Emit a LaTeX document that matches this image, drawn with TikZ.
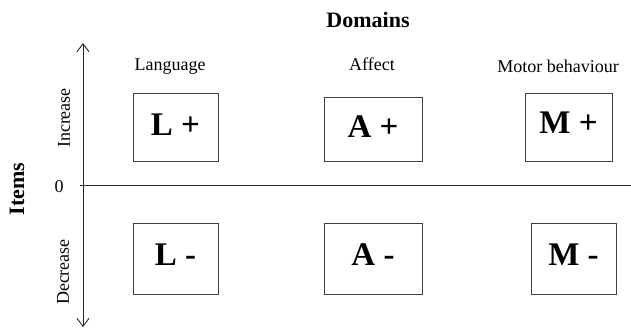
\documentclass[tikz,border=0pt]{standalone}
\usepackage{fontspec}
\setmainfont{Liberation Serif}
\usetikzlibrary{arrows.meta}
\begin{document}
\begin{tikzpicture}[x=1pt,y=-1pt,
  cell/.style={draw=black!75,line width=0.9pt,inner sep=0pt,anchor=north west},
  celltext/.style={font=\fontsize{33}{33}\selectfont\bfseries},
  lab/.style={font=\fontsize{18}{20}\selectfont},
  axis/.style={line width=0.9pt,draw=black!85}]
\useasboundingbox (0,0) rectangle (631,333);
% axes
\coordinate (vtop) at (83,43);
\coordinate (vbot) at (83,327);
\coordinate (hleft) at (80,185);
\coordinate (hright) at (631,185);
\draw[axis,{Straight Barb[length=8pt,width=12pt]}-{Straight Barb[length=8pt,width=12pt]}] (vtop) -- (vbot);
\draw[axis] (hleft) -- (hright);
% titles
\node[font=\fontsize{22}{24}\selectfont\bfseries] (dom) at (368,20) {Domains};
\node[font=\fontsize{22}{24}\selectfont\bfseries,rotate=90] (items) at (17,189) {Items};
\node[lab] (zero) at (59,187) {0};
\node[lab,rotate=90] (inc) at (64,118) {Increase};
\node[lab,rotate=90] (dec) at (63,272) {Decrease};
\node[lab] (lang) at (170,67) {Language};
\node[lab] (aff) at (372,64) {Affect};
\node[lab] (mot) at (558,66) {Motor behaviour};
% boxes
\draw[cell] (133,93) rectangle (218,161);
\node[celltext] (lp) at (175.5,125) {L +};
\draw[cell] (324,97) rectangle (422,161);
\node[celltext] (ap) at (373,127) {A +};
\draw[cell] (525,93) rectangle (612,161);
\node[celltext] (mp) at (568.5,123) {M +};
\draw[cell] (133,223) rectangle (218,294);
\node[celltext] (lm) at (175.5,255) {L -};
\draw[cell] (324,223) rectangle (422,294);
\node[celltext] (am) at (373,255) {A -};
\draw[cell] (531,223) rectangle (616,294);
\node[celltext] (mm) at (573.5,255) {M -};
\end{tikzpicture}
\end{document}
